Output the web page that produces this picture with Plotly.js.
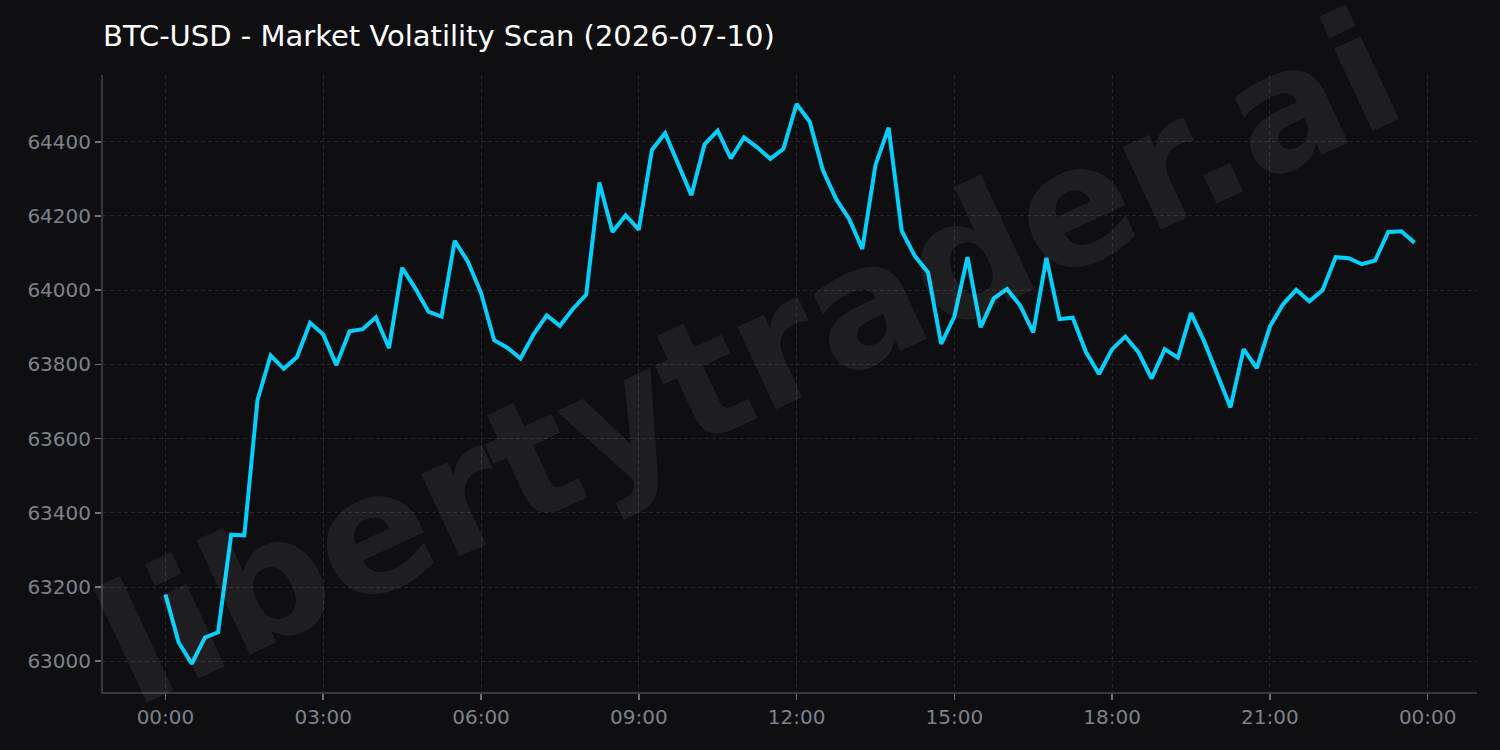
<!DOCTYPE html>
<html>
<head>
<meta charset="utf-8">
<script src="https://cdn.plot.ly/plotly-3.0.1.min.js"></script>
<style>
  html, body { margin: 0; padding: 0; background: #0f0f11; }
  #chart { width: 1500px; height: 750px; }
</style>
</head>
<body>
<div id="chart"></div>
<script>
const chartTitle = "BTC-USD - Market Volatility Scan (2026-07-10)";
const watermark = "libertytrader.ai";
const startTime = "2026-07-10T00:00:00";
const stepMinutes = 15;
const prices = [
  63180, 63051, 62993, 63064, 63078, 63341, 63339, 63704,
  63824, 63788, 63820, 63912, 63881, 63798, 63889, 63895,
  63927, 63844, 64060, 64005, 63942, 63929, 64133, 64077,
  63993, 63865, 63845, 63816, 63881, 63932, 63904, 63950,
  63988, 64290, 64157, 64202, 64163, 64378, 64423, 64340,
  64256, 64393, 64430, 64355, 64412, 64385, 64354, 64381,
  64502, 64454, 64324, 64246, 64192, 64111, 64337, 64438,
  64160, 64092, 64048, 63855, 63929, 64089, 63900, 63978,
  64003, 63959, 63886, 64087, 63922, 63926, 63834, 63774,
  63841, 63875, 63833, 63762, 63841, 63818, 63938, 63862,
  63776, 63684, 63841, 63790, 63902, 63962, 64001, 63970,
  64000, 64089, 64086, 64070, 64080, 64157, 64159, 64128
];
const yTicks = [63000, 63200, 63400, 63600, 63800, 64000, 64200, 64400];

function pad(n) { return String(n).padStart(2, "0"); }
const t0 = new Date(startTime + "Z").getTime();
const times = prices.map((_, i) => {
  const d = new Date(t0 + i * stepMinutes * 60000);
  return d.getUTCFullYear() + "-" + pad(d.getUTCMonth() + 1) + "-" + pad(d.getUTCDate()) +
    " " + pad(d.getUTCHours()) + ":" + pad(d.getUTCMinutes());
});

const gridColor = "#26262a";
const tickColor = "#7c828b";
const axisLineColor = "#38383c";

Plotly.newPlot("chart", [{
  x: times,
  y: prices,
  type: "scatter",
  mode: "lines",
  line: { color: "#00cfff", width: 4 },
  hoverinfo: "x+y"
}], {
  width: 1500,
  height: 750,
  paper_bgcolor: "#0f0f11",
  plot_bgcolor: "#0f0f11",
  margin: { l: 103, r: 23, t: 75, b: 58 },
  showlegend: false,
  title: {
    text: chartTitle,
    x: 103 / 1500, xanchor: "left",
    y: 1 - 36 / 750, yanchor: "middle",
    font: { family: "DejaVu Sans", size: 29, color: "#ffffff" }
  },
  xaxis: {
    type: "date",
    range: ["2026-07-09 22:48:45", "2026-07-11 00:56:15"],
    tickformat: "%H:%M",
    dtick: 3 * 3600 * 1000,
    tick0: "2026-07-10 00:00",
    showgrid: true,
    gridcolor: gridColor,
    griddash: "4px,3px",
    gridwidth: 1,
    zeroline: false,
    showline: true,
    linecolor: axisLineColor,
    linewidth: 2,
    ticks: "outside",
    ticklen: 6,
    tickwidth: 1.5,
    tickcolor: "#707070",
    tickfont: { family: "DejaVu Sans", size: 20, color: tickColor }
  },
  yaxis: {
    range: [62917, 64580],
    tickvals: yTicks,
    ticktext: yTicks.map(String),
    showgrid: true,
    gridcolor: gridColor,
    griddash: "4px,3px",
    gridwidth: 1,
    zeroline: false,
    showline: true,
    linecolor: axisLineColor,
    linewidth: 2,
    ticks: "outside",
    ticklen: 6,
    tickwidth: 1.5,
    tickcolor: "#707070",
    tickfont: { family: "DejaVu Sans", size: 20, color: tickColor }
  },
  annotations: [{
    text: "<b>" + watermark + "</b>",
    xref: "paper", yref: "paper",
    x: 0.47, y: 0.54,
    xanchor: "center", yanchor: "middle",
    showarrow: false,
    textangle: -25,
    font: { family: "DejaVu Sans", size: 166, color: "rgba(255,255,255,0.07)" }
  }]
}, { displayModeBar: false, staticPlot: true });
</script>
</body>
</html>
